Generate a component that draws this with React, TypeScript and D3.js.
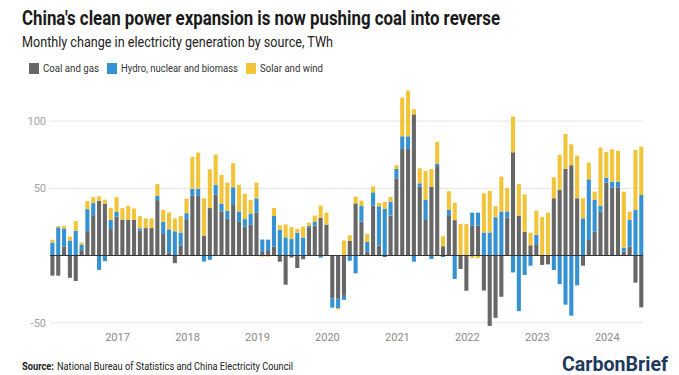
import React from "react";
import * as d3 from "d3";

const W = 679;
const H = 375;

// Monthly categories: Feb 2016 .. Jul 2024
const months: Date[] = d3.timeMonth.range(new Date(2016, 1, 1), new Date(2024, 7, 1));

const coalGas = [
  -15, -15, 6.7, -16.6, -19, 4, 18.1, 30, 40.7, 38.5, 19.6, 29,
  26.6, 26.6, 26.6, 18.5, 20.4, 20.4, 41.2, 16, 2, -5.7, 7.2, 27,
  44.4, 44.4, 14.7, 35.3, 45.4, 32.8, 27.3, 37.6, 25, 21.5, 22.8, 32,
  2.6, 4, 6.6, -4.6, -21.7, -1.5, -9.3, -2.8, 21, 22.2, 27.9, 23,
  -32, -32.2, -30, 11, 38.8, 25.2, 2.7, 37.1, 7.3, -1.1, 29.7, 57.4,
  79.3, 79.3, 105, 51.2, 26.4, 51.2, 66.6, 6.9, 30, 26.3, -10, -26.2,
  22.1, 22.1, -26.1, -52.4, -46.4, -30.7, 28.3, 76.8, 29.4, 17.7, 7.6, 8.4,
  -7, -6.6, 42.6, 48.8, 64.4, 67.2, 42.6, -7.6, 11.5, 17.7, 32.6, 54.2,
  50.5, 50.5, 2.9, 6.6, -20.2, -38.6,
];
const hydroNuclearBio = [
  9.7, 21, 13.4, 11.2, 18.4, 4.2, 16.4, 9, -10.7, -4.2, 7, 3.5,
  0, 0, 0, 1.8, 0, 0, 3.1, 9, 17.5, 18, 9.9, 4.5,
  5.2, 5.2, -4.5, -3.2, 7, 5.8, 6, 13.2, 7.8, 5.6, 8.4, 10.5,
  9.3, 7.8, 22.8, 19.2, 13.5, 12.2, 17, 13.4, 1.2, 2.7, -1.6, 0,
  -6.8, -7, -3, -3.9, -13.3, 11.6, 7.4, 9.9, 29.3, 34.6, 10.3, 7,
  9.4, 9.4, -4.6, 2.5, 14.9, -2.6, 1.8, -1.1, 3.9, -17.5, 0, 0,
  9.8, 9.8, 17.1, 17.1, 28.5, 32.8, 4.5, -12.6, -41.4, -14.5, -7.6, 7,
  0, 0, -10.8, -21.2, -36.6, -44.8, -22.2, 27.7, 45.2, 23.6, 4.5, 3.7,
  4.5, 4.5, 2.9, 19.8, 33.9, 45,
];
const solarWind = [
  2, 1, 2, 2.9, 7.2, 1.5, 6, 4.4, 3.3, 3, 8.9, 10.9,
  8.6, 10.4, 8.4, 9, 7.2, 7.2, 8.9, 9, 12.5, 9.6, 12.2, 10.9,
  23.8, 27, 27.8, 28.8, 22.7, 21.3, 21, 17.9, 19.8, 18.9, 10, 11.7,
  -0.8, -0.8, 6, 3.3, 9.7, 8.9, 2.9, 8.1, 2.2, 4.8, 9.2, 8.9,
  0, -1, 11.2, 4, 5, 4, 5.9, 4.5, 2.5, 5.4, 3.5, 2.7,
  28.8, 34, 3.8, 11.2, 21.6, 13.2, 16.1, 7.4, 13.9, 13, 23.4, 23.4,
  -1.9, -1.9, 29.2, 31.1, 8.3, 25.9, 17.3, 26.5, 23.8, 27.8, 9.4, 17.9,
  28.6, 31.9, 15.6, 26, 26, 15.6, 31.7, 14.9, 12.4, 6.2, 43.2, 19.1,
  24, 22.8, 41.7, 6.2, 44.6, 36,
];

const seriesKeys = ["coal", "hydro", "solar"];
const seriesLabels = ["Coal and gas", "Hydro, nuclear and biomass", "Solar and wind"];
const seriesColors = ["#676767", "#3592d2", "#f2c43a"];

const yTicks = [100, 50, -50];
const yearTicks = [2017, 2018, 2019, 2020, 2021, 2022, 2023, 2024];

const rows = months.map((m, i) => ({
  i,
  coal: coalGas[i],
  hydro: hydroNuclearBio[i],
  solar: solarWind[i],
}));

export default function App() {
  const x = d3
    .scaleBand<number>()
    .domain(rows.map((r) => r.i))
    .range([49.5, 644.2])
    .paddingInner(0.3)
    .paddingOuter(0.15);

  const y = d3.scaleLinear().domain([-50, 100]).range([322.7, 121.1]);

  const stack = d3
    .stack<any>()
    .keys(seriesKeys)
    .offset(d3.stackOffsetDiverging);
  const layers = stack(rows);

  const gridX0 = 50;
  const gridX1 = 643;

  const yearIndex = (yr: number) =>
    months.findIndex((m) => m.getFullYear() === yr && m.getMonth() === 0);

  const legendX = [29, 107, 246];
  const legendW = [56, 117, 63];

  return (
    <svg
      width={W}
      height={H}
      style={{ position: "absolute", left: 0, top: 0, background: "#fff" }}
      fontFamily="Roboto, 'Liberation Sans', sans-serif"
    >
      <rect width={W} height={H} fill="#fff" />
      <text
        x={22}
        y={25}
        fontSize={20}
        fontWeight={700}
        fill="#1a1a1a"
        textLength={478}
        lengthAdjust="spacingAndGlyphs"
      >
        China's clean power expansion is now pushing coal into reverse
      </text>
      <text
        x={22}
        y={47}
        fontSize={14}
        fill="#222"
        textLength={311}
        lengthAdjust="spacingAndGlyphs"
      >
        Monthly change in electricity generation by source, TWh
      </text>

      {seriesLabels.map((lab, k) => (
        <g key={lab} transform={`translate(${legendX[k]},63)`}>
          <rect width={10} height={11} fill={seriesColors[k]} />
          <text
            x={14}
            y={9}
            fontSize={10.5}
            fill="#333"
            textLength={legendW[k]}
            lengthAdjust="spacingAndGlyphs"
          >
            {lab}
          </text>
        </g>
      ))}

      {yTicks.map((t) => (
        <g key={t}>
          <line x1={gridX0} x2={gridX1} y1={y(t)} y2={y(t)} stroke="#e4e4e4" strokeWidth={1} />
          <text x={46} y={y(t)} dy="0.35em" textAnchor="end" fontSize={11} fill="#a0a0a0">
            {t}
          </text>
        </g>
      ))}

      {layers.map((layer, k) => (
        <g key={layer.key} fill={seriesColors[k]}>
          {layer.map((d, i) => {
            const y0 = y(d[0]);
            const y1 = y(d[1]);
            const top = Math.min(y0, y1);
            const h = Math.abs(y0 - y1);
            if (h <= 0) return null;
            return (
              <rect key={i} x={x(rows[i].i)} y={top} width={x.bandwidth()} height={h} />
            );
          })}
        </g>
      ))}

      <line x1={gridX0} x2={gridX1} y1={y(0)} y2={y(0)} stroke="#333" strokeWidth={1.2} />

      {yearTicks.map((yr) => {
        const idx = yearIndex(yr);
        const cx = (x(idx) as number) + x.bandwidth() / 2 + 1;
        return (
          <text key={yr} x={cx} y={341} textAnchor="middle" fontSize={11} fill="#8a8a8a">
            {yr}
          </text>
        );
      })}

      <text
        x={22}
        y={370}
        fontSize={10}
        fill="#222"
        fontWeight={700}
        textLength={32}
        lengthAdjust="spacingAndGlyphs"
      >
        Source:
      </text>
      <text
        x={57}
        y={370}
        fontSize={10}
        fill="#222"
        textLength={236}
        lengthAdjust="spacingAndGlyphs"
      >
        National Bureau of Statistics and China Electricity Council
      </text>

      <text
        x={562}
        y={371}
        fontSize={21}
        fontWeight={700}
        fill="#1d3a5c"
        textLength={106}
        lengthAdjust="spacingAndGlyphs"
      >
        CarbonBrief
      </text>
    </svg>
  );
}
